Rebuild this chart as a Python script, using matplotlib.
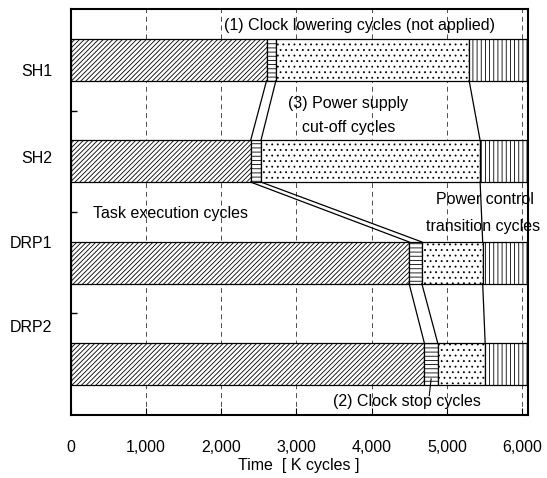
import numpy as np
import matplotlib.pyplot as plt
from matplotlib.ticker import FuncFormatter

plt.rcParams['font.family'] = ['Liberation Sans', 'DejaVu Sans']
plt.rcParams['hatch.linewidth'] = 0.6

# cycles in K, per core
cores = ['SH1', 'SH2', 'DRP1', 'DRP2']
task_exec = [2604, 2392, 4497, 4701]
transition = [124, 137, 169, 178]
cutoff = [2567, 2912, 809, 629]
clock_stop = [775, 629, 595, 562]

seg_data = [task_exec, transition, cutoff, clock_stop]
seg_hatch = ['///////', '----', '...', '||||']

fig = plt.figure(figsize=(5.47, 4.78), dpi=100)
ax = fig.add_axes([0.129, 0.132, 0.836, 0.849])

y = np.arange(len(cores))
bar_h = 0.41
left = np.zeros(len(cores))
bounds = []
for vals, h in zip(seg_data, seg_hatch):
    vals = np.array(vals, dtype=float)
    ax.barh(y, vals, left=left, height=bar_h, color='white', edgecolor='black',
            hatch=h, linewidth=0.9, zorder=2)
    left = left + vals
    bounds.append(left.copy())

# connector lines between bars (end of task, end of transition, end of cut-off)
for b in bounds[:3]:
    for i in range(len(cores) - 1):
        ax.plot([b[i], b[i + 1]], [y[i] + bar_h / 2, y[i + 1] - bar_h / 2],
                color='black', lw=0.9, zorder=3)

ax.set_xlim(0, 6075)
ax.set_ylim(3.5, -0.5)
ax.set_xticks(np.arange(0, 6001, 1000))
ax.xaxis.set_major_formatter(FuncFormatter(lambda v, p: f'{int(v):,}'))
ax.tick_params(axis='x', direction='in', length=5, pad=18, labelsize=11.5)
ax.grid(axis='x', color='0.3', linestyle=(0, (5, 4)), linewidth=0.7, zorder=0)
ax.set_axisbelow(True)

# category labels (slightly off the bar centres, as in the figure)
label_pos = [0.10, 0.96, 1.80, 2.62]
ax.set_yticks(label_pos, cores)
ax.tick_params(axis='y', length=0, pad=13, labelsize=11.5)
ax.set_yticks([0.5, 1.5, 2.5], minor=True)
ax.tick_params(axis='y', which='minor', direction='in', length=4.5, width=1)

for s in ax.spines.values():
    s.set_linewidth(1.5)

ax.set_xlabel('Time  [ K cycles ]', fontsize=11.5, labelpad=2)

fs = 11.5
ax.text(3832, -0.34, '(1) Clock lowering cycles (not applied)', ha='center', va='center', fontsize=fs)
ax.text(3686, 0.43, '(3) Power supply', ha='center', va='center', fontsize=fs)
ax.text(3700, 0.67, 'cut-off cycles', ha='center', va='center', fontsize=fs)
ax.text(296, 1.51, 'Task execution cycles', ha='left', va='center', fontsize=fs)
ax.text(5500, 1.38, 'Power control', ha='center', va='center', fontsize=fs, clip_on=False)
ax.text(5480, 1.64, 'transition cycles', ha='center', va='center', fontsize=fs, clip_on=False)

# clock stop label with a short leader into the DRP2 transition segment
x_stop = task_exec[3] + transition[3] * 0.5
ax.text(4466, 3.37, '(2) Clock stop cycles', ha='center', va='center', fontsize=fs)
ax.plot([x_stop - 25, x_stop], [y[3] + 0.31, y[3] + bar_h / 2 - 0.06],
        color='black', lw=0.8, zorder=3)

fig.savefig('out.png', dpi=100)
